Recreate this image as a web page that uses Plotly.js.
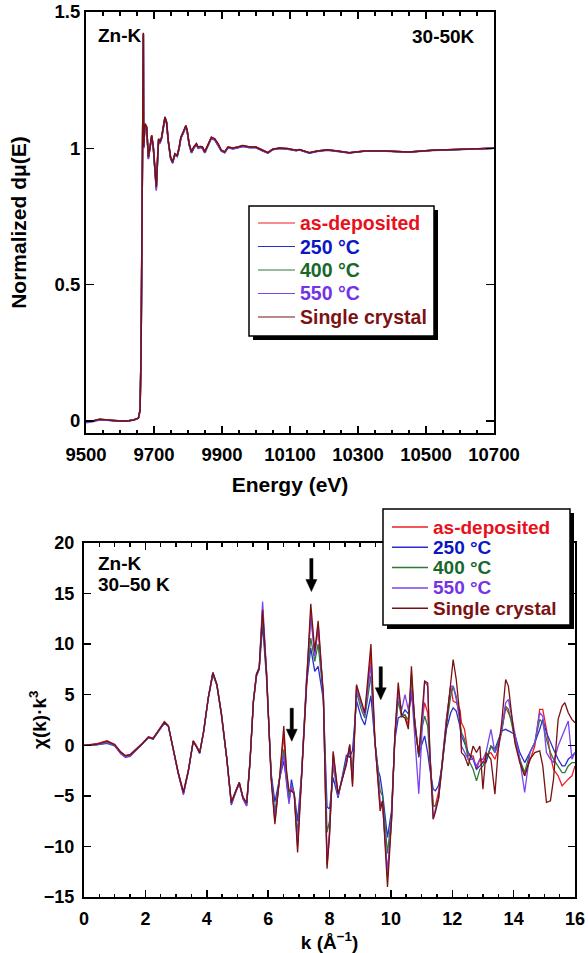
<!DOCTYPE html>
<html><head><meta charset="utf-8">
<script src="https://cdn.plot.ly/plotly-3.0.1.min.js"></script>
<style>html,body{margin:0;padding:0;background:#fff;} #chart{width:588px;height:953px;}</style>
</head><body><div id="chart"></div>
<script>
// ---------- Top panel: normalized XANES (energy in eV) ----------
const energy = [9500, 9520, 9540, 9560, 9580, 9600, 9620, 9640, 9654, 9659,
  9662, 9664, 9666, 9668.7, 9669.5, 9673.6, 9678.5, 9683.4, 9688.3, 9693.2,
  9698, 9703.9, 9706.8, 9710.7, 9713.6, 9717.5, 9722.4, 9727.3, 9732.2, 9737.1,
  9741.9, 9748.8, 9754.6, 9761.5, 9768.3, 9774.2, 9779, 9785.9, 9793.7, 9797.6,
  9803.4, 9810.3, 9817.1, 9824.9, 9829.8, 9836.6, 9842.5, 9849.3, 9859.1, 9868.8,
  9878.6, 9888.3, 9898.1, 9907.9, 9917.6, 9932.3, 9946.9, 9961.5, 9981.1, 10000,
  10020, 10035, 10049, 10069, 10093, 10118, 10128, 10157, 10180, 10210,
  10240, 10274, 10320, 10381, 10449, 10518, 10586, 10640, 10700];

const muAD = [0.0, 0.0, 0.006, 0.004, 0.0, 0.0, 0.0, 0.004, 0.01, 0.04,
  0.25, 0.6, 1.0, 1.42, 1.005, 1.09, 1.078, 0.968, 1.005, 1.048,
  1.005, 0.883, 0.86, 0.968, 1.035, 1.023, 1.041, 1.078, 1.115, 1.096,
  1.029, 0.968, 0.95, 0.98, 0.974, 1.005, 1.041, 1.06, 1.084, 1.066,
  1.017, 0.987, 1.005, 1.017, 1.005, 1.007, 1.005, 0.987, 1.017, 1.041,
  1.035, 1.017, 0.993, 0.987, 1.005, 1.001, 1.005, 1.01, 1.005, 1.005,
  0.993, 0.984, 0.997, 1.001, 0.999, 0.993, 0.996, 0.984, 0.99, 0.995,
  0.99, 0.984, 0.99, 0.99, 0.987, 0.993, 0.996, 0.997, 1.0];
const mu250 = [-0.004, 0.0, 0.005, 0.004, 0.0, 0.0, 0.0, 0.004, 0.01, 0.04,
  0.25, 0.6, 1.0, 1.41, 1.0, 1.085, 1.072, 0.96, 1.0, 1.043,
  1.0, 0.875, 0.85, 0.96, 1.03, 1.018, 1.036, 1.072, 1.108, 1.09,
  1.024, 0.962, 0.945, 0.975, 0.97, 1.0, 1.036, 1.055, 1.078, 1.06,
  1.012, 0.983, 1.0, 1.012, 1.0, 1.003, 1.0, 0.983, 1.012, 1.036,
  1.03, 1.012, 0.99, 0.984, 1.002, 0.998, 1.002, 1.007, 1.002, 1.002,
  0.99, 0.982, 0.995, 0.999, 0.997, 0.991, 0.994, 0.982, 0.988, 0.993,
  0.988, 0.983, 0.989, 0.989, 0.986, 0.992, 0.995, 0.997, 1.0];
const mu400 = [-0.002, 0.0, 0.006, 0.004, 0.0, 0.0, 0.0, 0.004, 0.01, 0.04,
  0.25, 0.6, 1.0, 1.42, 1.005, 1.09, 1.076, 0.965, 1.003, 1.046,
  1.003, 0.88, 0.855, 0.965, 1.033, 1.021, 1.039, 1.076, 1.112, 1.094,
  1.027, 0.966, 0.948, 0.978, 0.972, 1.003, 1.039, 1.058, 1.082, 1.064,
  1.015, 0.985, 1.003, 1.015, 1.003, 1.005, 1.003, 0.985, 1.015, 1.039,
  1.033, 1.015, 0.992, 0.986, 1.004, 1.0, 1.004, 1.009, 1.004, 1.004,
  0.992, 0.984, 0.996, 1.0, 0.998, 0.992, 0.995, 0.984, 0.99, 0.994,
  0.99, 0.984, 0.99, 0.99, 0.987, 0.993, 0.996, 0.997, 1.0];
const mu550 = [-0.006, -0.003, 0.004, 0.003, 0.0, 0.0, 0.0, 0.004, 0.01, 0.04,
  0.25, 0.6, 1.0, 1.42, 1.0, 1.088, 1.075, 0.962, 1.002, 1.046,
  1.002, 0.878, 0.845, 0.962, 1.032, 1.02, 1.038, 1.075, 1.11, 1.093,
  1.026, 0.964, 0.946, 0.977, 0.971, 1.002, 1.038, 1.057, 1.08, 1.063,
  1.014, 0.984, 1.002, 1.014, 1.002, 1.004, 1.002, 0.984, 1.014, 1.038,
  1.032, 1.014, 0.991, 0.985, 1.003, 0.999, 1.003, 1.008, 1.003, 1.003,
  0.991, 0.983, 0.996, 1.0, 0.998, 0.992, 0.995, 0.983, 0.989, 0.994,
  0.989, 0.984, 0.99, 0.99, 0.987, 0.993, 0.996, 0.997, 1.0];
const muSC = [0.0, 0.0, 0.006, 0.004, 0.0, 0.0, 0.0, 0.004, 0.01, 0.04,
  0.25, 0.6, 1.0, 1.424, 1.005, 1.09, 1.078, 0.968, 1.005, 1.048,
  1.005, 0.883, 0.858, 0.968, 1.035, 1.023, 1.041, 1.078, 1.115, 1.096,
  1.029, 0.968, 0.95, 0.98, 0.974, 1.005, 1.041, 1.06, 1.084, 1.066,
  1.017, 0.987, 1.005, 1.017, 1.005, 1.007, 1.005, 0.987, 1.017, 1.041,
  1.035, 1.017, 0.993, 0.987, 1.005, 1.001, 1.005, 1.01, 1.005, 1.005,
  0.993, 0.984, 0.997, 1.001, 0.999, 0.993, 0.996, 0.984, 0.99, 0.995,
  0.99, 0.984, 0.99, 0.99, 0.987, 0.993, 0.996, 0.997, 1.0];

// ---------- Bottom panel: chi(k)*k^3 ----------
const kValues = [0, 0.4, 0.75, 1.0, 1.2, 1.35, 1.5, 1.7, 1.9, 2.1,
  2.25, 2.42, 2.62, 2.75, 2.9, 3.07, 3.24, 3.4, 3.56, 3.67,
  3.77, 3.9, 4.05, 4.2, 4.33, 4.48, 4.65, 4.8, 4.95, 5.06,
  5.18, 5.3, 5.41, 5.52, 5.62, 5.71, 5.82, 5.95, 6.1,
  6.22, 6.38, 6.51, 6.6, 6.68, 6.76, 6.85, 6.96, 7.09, 7.25,
  7.39, 7.52, 7.63, 7.8, 7.92, 8.0, 8.12, 8.28, 8.45, 8.55,
  8.66, 8.75, 8.88, 9.04, 9.15, 9.35, 9.48, 9.59, 9.65, 9.73,
  9.89, 10.02, 10.13, 10.24, 10.35, 10.46, 10.57, 10.67, 10.78, 10.91, 11.0,
  11.1, 11.2, 11.27, 11.38, 11.45, 11.55, 11.65, 11.81, 11.95, 12.03,
  12.13, 12.25, 12.3, 12.4, 12.52, 12.68, 12.79, 12.9, 13.0, 13.1,
  13.26, 13.39, 13.5, 13.61, 13.74, 13.83, 13.93, 14.04, 14.2, 14.36,
  14.53, 14.69, 14.85, 14.95, 15.07, 15.2, 15.3, 15.45, 15.58, 15.67,
  15.78, 15.9, 16.0];

const chiAD = [0, 0.15, 0.45, 0.1, -0.65, -1.0, -0.9, -0.35, 0.2, 0.85,
  0.7, 1.45, 2.35, 1.95, -0.2, -2.65, -4.6, -2.45, 0.45, -0.05,
  -0.7, 1.45, 4.75, 7.2, 6.05, 3.1, -1.2, -5.6, -4.45, -3.65,
  -5.1, -5.75, -1.5, 4.4, 7.05, 7.7, 13.3, 7.1, -3.0,
  -7.5, -3.0, 1.0, -2.8, -4.8, -4.4, -4.8, -10.0, -3.1, 6.6,
  13.0, 9.0, 11.5, 5.0, -11.8, -8.8, -0.8, -4.9, -2.9, -1.8,
  0.0, -3.8, 5.8, 4.2, 3.0, 9.0, 0.4, -3.8, -6.0, -5.5,
  -13.0, -7.3, 1.0, 5.5, 3.0, 3.0, 2.0, 7.0, 2.0, -1.0, 2.0,
  4.21, 3.22, -0.72, -5.98, -5.98, -4.67, -2.37, 2.56, 5.85, 4.37,
  4.21, 3.55, 2.23, 1.58, -1.05, -1.05, -2.37, -1.38, -1.71, -1.05,
  -0.72, -1.38, -0.39, 1.58, 3.71, 3.22, 2.56, 0.59, -1.38, -3.02,
  -1.38, -0.07, 3.55, 3.55, 1.58, -1.05, -2.37, -3.02, -4.01, -3.68,
  -3.35, -3.02, -2.04];
const chi250 = [0, 0.05, 0.2, -0.05, -0.85, -1.2, -1.1, -0.5, 0.1, 0.75,
  0.6, 1.35, 2.2, 1.85, -0.3, -2.8, -4.8, -2.6, 0.35, -0.15,
  -0.8, 1.3, 4.6, 7.0, 5.9, 2.95, -1.3, -5.9, -4.6, -3.8,
  -5.3, -6.0, -1.7, 4.2, 6.8, 7.5, 11.9, 6.5, -2.8,
  -5.6, -3.2, -1.55, -3.5, -5.6, -3.4, -4.8, -7.5, -2.8, 6.0,
  9.6, 7.3, 7.8, 4.5, -6.1, -6.3, -3.2, -5.2, -2.6, -1.0,
  -1.2, -0.5, 4.4, 2.7, 2.0, 4.9, 0.3, -2.5, -3.1, -4.8,
  -9.1, -6.5, 0.5, 2.7, 2.9, 3.5, 3.1, 5.0, 2.5, -1.2, 0.0,
  0.92, -0.72, -2.37, -4.34, -4.5, -4.01, -2.37, 1.58, 3.22, 3.71,
  3.39, 1.91, 0.92, 0.26, -0.72, -1.38, -2.37, -2.04, -1.71, -1.71,
  -0.07, -0.39, 0.59, 1.41, 1.58, 1.41, 1.25, 1.08, -0.72, -1.71,
  -0.72, 0.26, 1.58, 2.56, 1.25, 0.26, -0.39, -1.38, -2.04, -2.04,
  -1.38, -1.05, -0.72];
const chi400 = [0, 0.05, 0.25, 0.0, -0.75, -1.1, -1.0, -0.4, 0.15, 0.8,
  0.65, 1.4, 2.3, 1.9, -0.25, -2.7, -4.7, -2.5, 0.4, -0.1,
  -0.75, 1.4, 4.7, 7.15, 6.0, 3.05, -1.25, -5.7, -4.5, -3.7,
  -5.2, -5.85, -1.6, 4.3, 6.95, 7.6, 12.8, 6.9, -3.1,
  -6.6, -3.1, -0.4, -3.2, -5.0, -4.0, -4.7, -8.8, -3.0, 6.4,
  10.6, 8.3, 10.0, 4.8, -8.6, -7.5, -2.0, -5.0, -2.7, -1.5,
  -0.5, -2.5, 5.2, 3.5, 2.7, 6.9, 0.4, -3.0, -4.5, -5.0,
  -10.7, -7.0, 0.8, 4.4, 2.8, 3.0, 2.5, 6.7, 2.3, -1.0, 1.5,
  2.89, 1.91, -1.38, -5.98, -5.98, -5.33, -2.7, 1.91, 4.87, 5.85,
  4.87, 2.56, 1.25, 0.59, -1.38, -2.37, -3.52, -2.37, -2.04, -1.38,
  -0.07, -0.72, 0.26, 1.25, 3.88, 3.55, 2.23, 0.59, -1.38, -2.7,
  -0.72, 0.26, 2.56, 2.23, 0.59, -0.72, -1.38, -2.04, -2.7, -2.7,
  -2.04, -1.71, -1.71];
const chi550 = [0, 0.1, 0.3, 0.0, -0.8, -1.15, -1.05, -0.45, 0.12, 0.8,
  0.62, 1.38, 2.25, 1.88, -0.3, -2.8, -4.9, -2.6, 0.4, -0.15,
  -0.8, 1.38, 4.68, 7.2, 5.95, 3.0, -1.3, -5.8, -4.6, -3.75,
  -5.3, -6.0, -1.6, 4.35, 7.0, 7.7, 14.2, 7.2, -3.3,
  -7.2, -3.2, -0.9, -3.8, -5.8, -4.0, -4.8, -9.5, -3.0, 6.5,
  12.8, 8.8, 12.0, 4.8, -11.5, -8.5, -1.5, -5.0, -2.8, -1.6,
  -0.3, -3.0, 5.5, 4.0, 3.0, 8.0, 0.3, -3.5, -5.5, -6.0,
  -12.5, -7.5, 0.8, 5.0, 3.5, 5.0, 3.5, 5.5, 1.0, -4.8, 0.5,
  6.34, 5.85, -0.72, -7.3, -6.31, -5.33, -2.37, 2.56, 5.85, 5.85,
  4.54, 2.56, -0.07, -0.72, -1.38, -1.38, -2.04, -1.38, -1.38, -0.72,
  1.58, -0.72, -0.07, 1.58, 4.21, 4.54, 2.89, 0.92, -1.38, -4.67,
  -0.72, 0.26, 3.22, 2.89, -0.72, -1.38, -1.71, -0.07, 0.92, 1.58,
  2.4, -1.38, -0.72];
const chiSC = [0, 0.1, 0.4, 0.05, -0.7, -1.05, -0.95, -0.4, 0.16, 0.82,
  0.66, 1.41, 2.3, 1.91, -0.23, -2.7, -4.67, -2.5, 0.43, -0.1,
  -0.72, 1.41, 4.7, 7.17, 6.0, 3.06, -1.22, -5.65, -4.5, -3.68,
  -5.16, -5.7, -1.55, 4.37, 7.0, 7.66, 13.4, 7.0, -3.4,
  -7.8, -3.0, 1.9, -2.5, -4.5, -4.5, -4.8, -10.6, -3.2, 6.7,
  14.0, 9.3, 12.3, 5.0, -12.2, -9.0, -0.6, -4.8, -2.9, -1.9,
  0.1, -4.1, 6.0, 4.4, 3.2, 10.0, 0.5, -4.0, -6.5, -5.5,
  -14.0, -7.5, 1.0, 6.2, 2.9, 2.7, 1.6, 7.8, 2.0, -0.9, 2.5,
  6.34, 6.18, -0.72, -7.3, -6.64, -5.33, -2.37, 2.56, 6.51, 8.48,
  6.51, 2.89, -0.72, -1.05, -2.04, -0.07, -0.72, -0.07, -4.34, -0.72,
  -1.38, -4.83, -0.39, 2.23, 6.51, 5.85, 3.22, 0.26, -1.71, -3.02,
  -1.38, -0.72, -0.56, -2.04, -5.65, -5.49, -3.35, 2.56, 3.88, 4.21,
  3.22, 2.56, 2.23];

// arrows marking features in chi(k): tip positions
const arrowK = [7.41, 6.77, 9.67];
const arrowChi = [15.2, 0.4, 4.5];

const seriesNames = ['as-deposited', '250 °C', '400 °C', '550 °C', 'Single crystal'];
const lineColors = ['#ee1c25', '#2c2cd2', '#2d7a3a', '#7a44ee', '#7a1010'];
const textColors = ['#e8101a', '#0b17c4', '#17692a', '#7433e6', '#7d1212'];
const muSeries = [muAD, mu250, mu400, mu550, muSC];
const chiSeries = [chiAD, chi250, chi400, chi550, chiSC];

// ---------- layout helpers ----------
const W = 588, H = 953;
const px = v => v / W;
const py = v => 1 - v / H;
const FONT = 'Liberation Sans, Arial, Helvetica, sans-serif';

const traces = [];
seriesNames.forEach((n, i) => {
  traces.push({
    x: energy, y: muSeries[i], type: 'scatter', mode: 'lines',
    xaxis: 'x', yaxis: 'y', showlegend: false, name: n,
    line: {color: lineColors[i], width: 1.5}
  });
});
seriesNames.forEach((n, i) => {
  traces.push({
    x: kValues, y: chiSeries[i], type: 'scatter', mode: 'lines',
    xaxis: 'x2', yaxis: 'y2', showlegend: false, name: n,
    line: {color: lineColors[i], width: 1.3}
  });
});

const axisCommon = {
  ticks: 'inside', tickcolor: '#000', tickwidth: 1.5,
  showline: true, linewidth: 2, linecolor: '#000', mirror: 'ticks',
  showgrid: false, zeroline: false, automargin: false,
  tickfont: {family: FONT, size: 18, color: '#000', weight: 'bold'}
};

const shapes = [];
const annotations = [];

// hand-drawn style legend box with drop shadow
function addLegend(box, rowY0, rowGap, lineX0, lineX1, textX, fontSize, lineWidth) {
  shapes.push({type: 'rect', xref: 'paper', yref: 'paper',
    x0: px(box.l + 4), x1: px(box.r + 4), y0: py(box.b + 4), y1: py(box.t + 4),
    fillcolor: '#000', line: {width: 0}, layer: 'above'});
  shapes.push({type: 'rect', xref: 'paper', yref: 'paper',
    x0: px(box.l), x1: px(box.r), y0: py(box.b), y1: py(box.t),
    fillcolor: '#fff', line: {color: '#000', width: 1.5}, layer: 'above'});
  seriesNames.forEach((n, i) => {
    const yy = rowY0 + i * rowGap;
    shapes.push({type: 'line', xref: 'paper', yref: 'paper',
      x0: px(lineX0), x1: px(lineX1), y0: py(yy), y1: py(yy),
      line: {color: lineColors[i], width: lineWidth}, layer: 'above'});
    annotations.push({xref: 'paper', yref: 'paper', x: px(textX), y: py(yy),
      xanchor: 'left', yanchor: 'middle', showarrow: false, text: n,
      font: {family: FONT, size: fontSize, color: textColors[i], weight: 'bold'}});
  });
}
addLegend({l: 249, r: 434, t: 206, b: 336}, 223, 23.5, 258, 295, 298, 19.5, 1.2);
addLegend({l: 383, r: 570, t: 509, b: 625}, 527, 20.3, 392, 428, 431, 19, 1.5);

// panel labels
annotations.push(
  {xref: 'paper', yref: 'paper', x: px(96), y: py(35), xanchor: 'left', yanchor: 'middle',
   text: 'Zn-K', showarrow: false, font: {family: FONT, size: 19, weight: 'bold'}},
  {xref: 'paper', yref: 'paper', x: px(477), y: py(36), xanchor: 'right', yanchor: 'middle',
   text: '30-50K', showarrow: false, font: {family: FONT, size: 19, weight: 'bold'}},
  {xref: 'paper', yref: 'paper', x: px(96), y: py(563), xanchor: 'left', yanchor: 'middle',
   text: 'Zn-K', showarrow: false, font: {family: FONT, size: 19, weight: 'bold'}},
  {xref: 'paper', yref: 'paper', x: px(96), y: py(584), xanchor: 'left', yanchor: 'middle',
   text: '30–50 K', showarrow: false, font: {family: FONT, size: 19, weight: 'bold'}},
  {xref: 'paper', yref: 'paper', x: px(38), y: py(720), xanchor: 'center', yanchor: 'middle',
   textangle: -90, text: 'χ(k)·k<sup>3</sup>', showarrow: false,
   font: {family: FONT, size: 19, weight: 'bold'}}
);

// down arrows (pixel-sized path anchored at data point)
arrowK.forEach((k, i) => {
  shapes.push({type: 'path', xref: 'x2', yref: 'y2', xsizemode: 'pixel', ysizemode: 'pixel',
    xanchor: k, yanchor: arrowChi[i],
    path: 'M-1.6,33 L1.6,33 L1.6,12 L5.5,12 L0,0 L-5.5,12 L-1.6,12 Z',
    fillcolor: '#000', line: {color: '#000', width: 0.5}, layer: 'above'});
});

const layout = {
  width: W, height: H,
  margin: {l: 0, r: 0, t: 0, b: 0},
  paper_bgcolor: '#fff', plot_bgcolor: '#fff',
  font: {family: FONT, color: '#000', size: 18, weight: 'bold'},
  showlegend: false,
  xaxis: Object.assign({}, axisCommon, {
    domain: [px(86), px(494)], anchor: 'y', range: [9500, 10700],
    tick0: 9500, dtick: 200, ticklen: 7, tickformat: 'd',
    tickfont: {family: FONT, size: 18.5, color: '#000', weight: 'bold'},
    minor: {dtick: 50, ticks: 'inside', ticklen: 3.5, tickwidth: 1.5, tickcolor: '#000', showgrid: false},
    ticklabelstandoff: 4,
    title: {text: 'Energy (eV)', font: {family: FONT, size: 21, weight: 'bold'}, standoff: 13}
  }),
  yaxis: Object.assign({}, axisCommon, {
    domain: [py(433), py(12)], anchor: 'x', range: [-0.044, 1.5],
    tick0: 0, dtick: 0.5, ticklen: 8,
    tickfont: {family: FONT, size: 18.5, color: '#000', weight: 'bold'},
    title: {text: 'Normalized dμ(E)', font: {family: FONT, size: 21, weight: 'bold'}, standoff: 22}
  }),
  xaxis2: Object.assign({}, axisCommon, {
    domain: [px(84), px(575)], anchor: 'y2', range: [0, 16],
    tick0: 0, dtick: 2, ticklen: 7,
    minor: {dtick: 0.5, ticks: 'inside', ticklen: 3.5, tickwidth: 1.5, tickcolor: '#000', showgrid: false},
    ticklabelstandoff: 4,
    title: {text: 'k (Å<sup>−1</sup>)', font: {family: FONT, size: 19, weight: 'bold'}, standoff: 0}
  }),
  yaxis2: Object.assign({}, axisCommon, {
    domain: [py(897), py(543)], anchor: 'x2', range: [-15, 20],
    tick0: -15, dtick: 5, ticklen: 7,
    ticklabelstandoff: 4
  }),
  shapes: shapes,
  annotations: annotations
};

Plotly.newPlot('chart', traces, layout, {displayModeBar: false, staticPlot: true});
</script>
</body></html>
